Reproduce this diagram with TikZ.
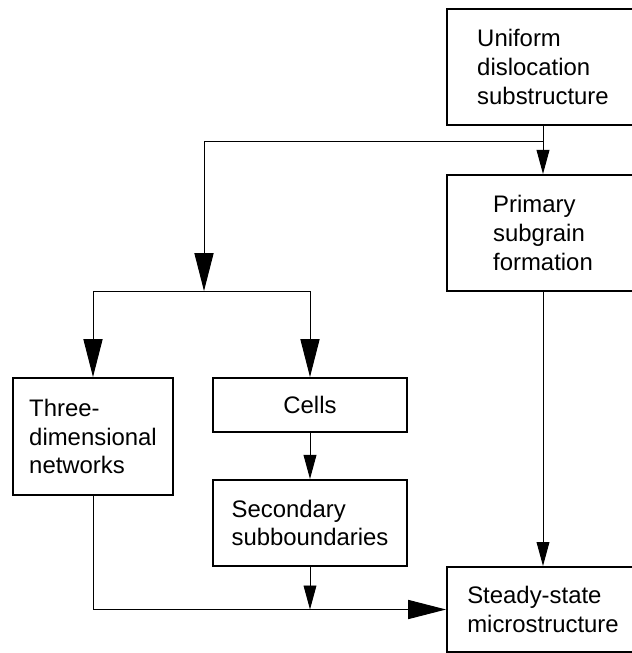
\documentclass[tikz,border=0pt]{standalone}
\usepackage{fontspec}
\setmainfont{Liberation Sans}
\usepackage{tikz}
\usetikzlibrary{arrows.meta, positioning, calc}

\begin{document}
\begin{tikzpicture}[
  node distance=1.2cm,
  stage/.style={rectangle, draw, line width=1.4pt, align=left,
               inner sep=0pt, font=\fontsize{17}{20.5}\selectfont},
  widestage/.style={stage, minimum width=4.8cm},
  arr/.style={-{Triangle[length=0.6cm, width=0.32cm]}, line width=0.7pt},
  bigarr/.style={-{Triangle[length=0.95cm, width=0.48cm]}, line width=0.7pt}
]
\clip (0,0) rectangle (15.8,-16.325);

%% --- right column ---
\node[widestage, minimum height=2.9cm] (uni) at (13.575,-1.675)
  {Uniform\\dislocation\\substructure};
\node[widestage, minimum height=2.9cm, below=1.2cm of uni] (prim)
  {Primary\\subgrain\\formation};
\node[widestage, minimum height=2.125cm] (steady) at (13.575,-15.2375)
  {Steady-state\\microstructure};

%% --- left columns ---
\node[stage, minimum width=4.0cm, minimum height=2.925cm] (three) at (2.325,-10.9125)
  {Three-\\dimensional\\networks};
\node[stage, minimum width=4.85cm, minimum height=1.35cm] (cells) at (7.75,-10.125)
  {Cells};
\node[stage, minimum width=4.85cm, minimum height=2.15cm, below=1.15cm of cells] (sec)
  {Secondary\\subboundaries};

%% --- branching ---
\coordinate (fork) at ($(uni.south)+(0,-0.4)$);
\coordinate (split) at (5.1,-7.275);
\coordinate (merge) at (sec.south |- steady.west);

\draw[arr] (uni.south) -- (prim.north);
\draw[bigarr] (fork) -| (split);
\draw[bigarr] (split) -| (three.north);
\draw[bigarr] (split) -| (cells.north);
\draw[arr] (cells) -- (sec);
\draw[arr] (sec) -- (merge);
\draw[bigarr] (three.south) |- (steady.west);
\draw[arr] (prim) -- (steady);

\end{tikzpicture}
\end{document}
